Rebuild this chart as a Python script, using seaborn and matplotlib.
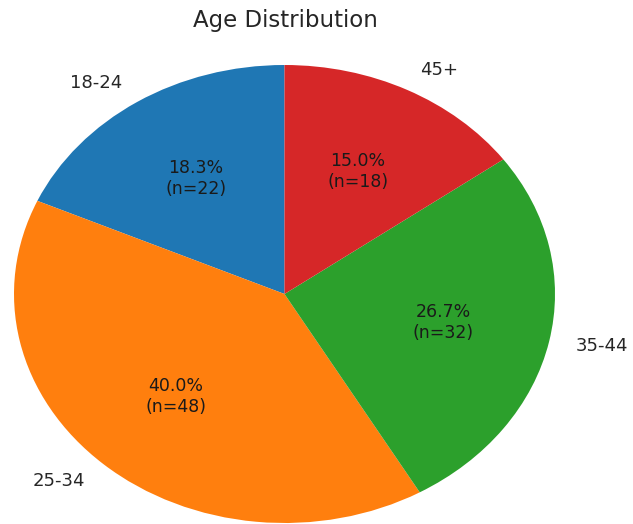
import matplotlib
matplotlib.use('Agg')
import matplotlib.pyplot as plt
import seaborn as sns

# Data
age_groups = ['18-24', '25-34', '35-44', '45+']
counts = [22, 48, 32, 18]
total = sum(counts)

colors = sns.color_palette('tab10', 4)

fig = plt.figure(figsize=(6.33, 5.24), dpi=100)
# pie is stretched horizontally in the reference, so axes are not square
ax = fig.add_axes([14 / 633, 1 / 524, 541 / 633, 458 / 524])


def fmt(pct):
    n = int(round(pct * total / 100.0))
    return f'{pct:.1f}%\n(n={n})'


wedges, texts, autotexts = ax.pie(
    counts,
    labels=age_groups,
    colors=colors,
    autopct=fmt,
    startangle=90,
    labeldistance=1.1,
    pctdistance=0.6,
    wedgeprops=dict(linewidth=0),
    textprops=dict(fontsize=13, color='#262626'),
)
for t in autotexts:
    t.set_fontsize(12.5)
    t.set_color('#1a1a1a')

ax.set_aspect('auto')
ax.set_xlim(-1, 1)
ax.set_ylim(-1, 1)
ax.axis('off')

fig.text(285 / 633, 1 - 20 / 524, 'Age Distribution', ha='center', va='center',
         fontsize=16.5, color='#262626')

fig.savefig('out.png', dpi=100)
